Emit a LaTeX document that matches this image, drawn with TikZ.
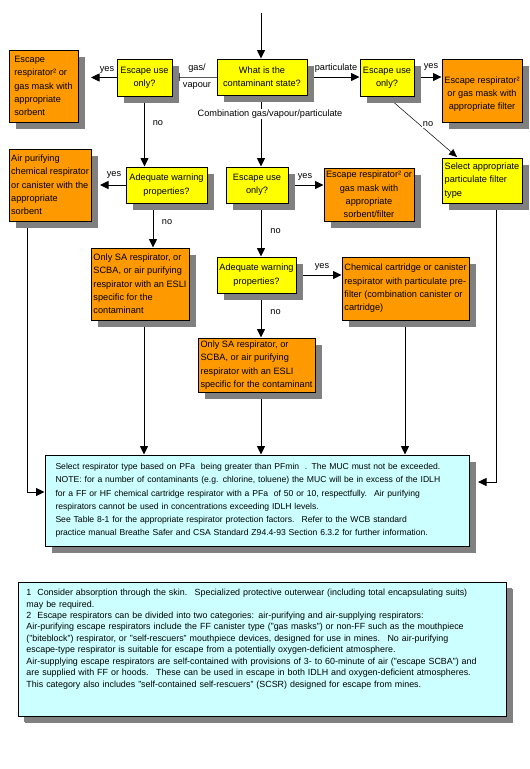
\documentclass[tikz,border=0pt]{standalone}
\usepackage{fontspec}
\setmainfont{Liberation Sans}
\usetikzlibrary{arrows.meta,shadows,calc}
\hyphenpenalty=10000
\pgfdeclarelayer{background}
\pgfsetlayers{background,main}
\definecolor{boxyellow}{HTML}{FFFF00}
\definecolor{boxorange}{HTML}{FF9900}
\definecolor{boxcyan}{HTML}{CCFFFF}
\definecolor{shadowgray}{HTML}{808080}
\tikzset{
  txt/.style={font=\fontsize{9.2}{13.3}\selectfont},
  box/.style={txt, draw=black, line width=1pt, inner sep=1pt,
    drop shadow={shadow xshift=7pt, shadow yshift=-7pt, fill=shadowgray, opacity=1}},
  qbox/.style={box, fill=boxyellow, align=center},
  abox/.style={box, fill=boxorange},
  nbox/.style={box, fill=boxcyan, align=left},
  arr/.style={line width=0.8pt, -{Triangle[length=8.5pt,width=8pt]}},
  lbl/.style={txt, inner sep=1pt},
  wlbl/.style={lbl, fill=white}
}
\begin{document}
\begin{tikzpicture}[x=1pt,y=-1pt]
\useasboundingbox (0,0) rectangle (530,769);
\begin{pgfonlayer}{background}
\fill[white] (0,0) rectangle (530,769);
\end{pgfonlayer}

% boxes
\node[qbox, minimum width=90pt, minimum height=36pt] (what) at (262,77) {What is the\\contaminant state?};
\node[qbox, minimum width=55pt, minimum height=37pt] (esc1) at (144.5,77.5) {Escape use\\only?};
\node[abox, align=left, minimum width=69pt, minimum height=72pt] (orL) at (43.5,86) {Escape\\respirator² or\\gas mask with\\appropriate\\sorbent};
\node[qbox, minimum width=54pt, minimum height=37pt] (esc2) at (387,77.5) {Escape use\\only?};
\node[abox, align=center, minimum width=80pt, minimum height=63pt] (orR) at (482,90.5) {\rule{0pt}{14pt}Escape respirator²\\or gas mask with\\appropriate filter};
\node[qbox, minimum width=81pt, minimum height=36pt] (adq1) at (166.5,185) {Adequate warning\\properties?};
\node[abox, align=left, minimum width=82pt, minimum height=72pt] (orAP) at (50,185) {Air purifying\\chemical respirator\\or canister with the\\appropriate\\sorbent};
\node[qbox, minimum width=62pt, minimum height=36pt] (esc3) at (257,185) {Escape use\\only?};
\node[abox, align=center, minimum width=90pt, minimum height=53pt] (orSF) at (369,194.5) {Escape respirator² or\\gas mask with\\appropriate\\sorbent/filter};
\node[box, fill=boxyellow, align=left, minimum width=80pt, minimum height=45pt] (sel) at (482,180.5) {Select appropriate\\particulate filter\\type};
\node[abox, align=left, minimum width=98pt, minimum height=72pt] (sa1) at (140,284) {Only SA respirator, or\\SCBA, or air purifying\\respirator with an ESLI\\specific for the\\contaminant};
\node[qbox, minimum width=79pt, minimum height=36pt] (adq2) at (256.5,275) {Adequate warning\\properties?};
\node[abox, align=left, minimum width=127pt, minimum height=63pt] (chem) at (405.5,288.5) {Chemical cartridge or canister\\respirator with particulate pre-\\filter (combination canister or\\cartridge)};
\node[abox, align=left, minimum width=117pt, minimum height=54pt] (sa2) at (256.5,365) {Only SA respirator, or\\SCBA, or air purifying\\respirator with an ESLI\\specific for the contaminant};
\node[nbox, font=\fontsize{8.6}{13.2}\selectfont, minimum width=424pt, minimum height=91pt, inner xsep=10.5pt, text width=403pt] (big) at (257,500.5) {Select respirator type based on PFa~ being greater than PFmin~ . The MUC must not be exceeded.\\NOTE: for a number of contaminants (e.g. chlorine, toluene) the MUC will be in excess of the IDLH\\for a FF or HF chemical cartridge respirator with a PFa~ of 50 or 10, respectfully.~ Air purifying\\respirators cannot be used in concentrations exceeding IDLH levels.\\See Table 8-1 for the appropriate respirator protection factors.~ Refer to the WCB standard\\practice manual Breathe Safer and CSA Standard Z94.4-93 Section 6.3.2 for further information.};
\node[nbox, font=\fontsize{8.9}{11.4}\selectfont, minimum width=488pt, minimum height=134pt, inner xsep=8.5pt, text width=471pt,
  drop shadow={shadow xshift=6pt, shadow yshift=-6pt, fill=shadowgray, opacity=1}] (notes) at (262,649) {1~ Consider absorption through the skin.~ Specialized protective outerwear (including total encapsulating suits)\\may be required.\\2~ Escape respirators can be divided into two categories: air-purifying and air-supplying respirators:\\Air-purifying escape respirators include the FF canister type ("gas masks") or non-FF such as the mouthpiece\\("biteblock") respirator, or "self-rescuers" mouthpiece devices, designed for use in mines.~ No air-purifying\\escape-type respirator is suitable for escape from a potentially oxygen-deficient atmosphere.\\Air-supplying escape respirators are self-contained with provisions of 3- to 60-minute of air ("escape SCBA") and\\are supplied with FF or hoods.~ These can be used in escape in both IDLH and oxygen-deficient atmospheres.\\[1pt]This category also includes "self-contained self-rescuers" (SCSR) designed for escape from mines.\rule[-21pt]{0pt}{21pt}};

% helper coordinates
\coordinate (top) at (261,13);
\coordinate (xm) at (261,0);
\coordinate (xa) at (153,0);
\coordinate (xc) at (405,0);
\coordinate (endL) at (91,0);
\coordinate (endAP) at (100,0);
\coordinate (cL) at (27,492);
\coordinate (cR) at (496,482);
\coordinate (endR) at (478,482);
\coordinate (selIn) at (457,157);

\begin{pgfonlayer}{background}
\draw[arr] (top) -- (top |- what.north);
\draw[arr] (what.west) -- (what.west -| esc1.east) -- ++(-1.5,0);
\draw[arr] (esc1.west) -- (esc1.west -| endL);
\draw[arr] (what.east) -- (what.east -| esc2.west);
\draw[arr] (esc2.east |- what.east) -- (what.east -| orR.west);
\draw[line width=0.5pt, -{Triangle[length=8pt,width=7pt]}] (esc2.south) -- (selIn);
\draw[arr] (esc1.south) -- (esc1.south |- adq1.north);
\draw[arr] (adq1.west) -- (adq1.west -| endAP);
\draw[arr] (adq1.south -| xa) -- (sa1.north -| xa);
\draw[arr] (orAP.south -| cL) -- (cL) -- (cL -| big.west);
\draw[arr] (what.south -| xm) -- (esc3.north -| xm);
\draw[arr] (esc3.east) -- (esc3.east -| orSF.west);
\draw[arr] (esc3.south -| xm) -- (adq2.north -| xm);
\draw[arr] (adq2.east) -- (adq2.east -| chem.west);
\draw[arr] (adq2.south -| xm) -- (sa2.north -| xm);
\draw[arr] (sa1.south) ++(4,0) coordinate (s1) (s1) -- (s1 |- big.north);
\draw[arr] (sa2.south -| xm) -- (big.north -| xm);
\draw[arr] (chem.south -| xc) -- (big.north -| xc);
\draw[arr] (sel.south -| cR) -- (cR) -- (endR);
\end{pgfonlayer}

% labels
\node[lbl] (lgas) at (197,68) {gas/};
\node[lbl] (lvap) at (197,86) {vapour};
\node[lbl] (ly1) at (107,70) {yes};
\node[lbl] (lpart) at (336,68) {particulate};
\node[lbl] (ly2) at (431,67) {yes};
\node[wlbl] (ln0) at (428,124) {no};
\node[lbl] (ln1) at (158,123) {no};
\node[wlbl] (lcomb) at (270,114) {Combination gas/vapour/particulate};
\node[lbl] (ly3) at (114,175) {yes};
\node[lbl] (ln2) at (167,222) {no};
\node[lbl] (ly4) at (305,177) {yes};
\node[lbl] (ln3) at (275.5,231) {no};
\node[lbl] (ly5) at (322,267) {yes};
\node[lbl] (ln4) at (275.5,312) {no};
\end{tikzpicture}
\end{document}
